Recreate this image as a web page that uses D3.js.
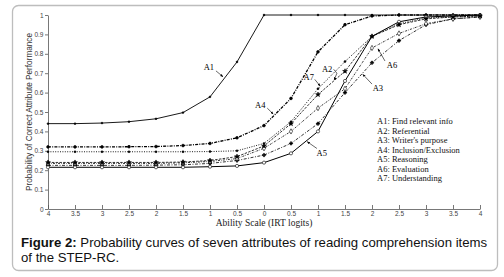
<!DOCTYPE html>
<html>
<head>
<meta charset="utf-8">
<script src="https://cdn.jsdelivr.net/npm/d3@7"></script>
<style>
  body { margin: 0; background: #fff; }
  svg { display: block; }
</style>
</head>
<body>
<div id="chart"></div>
<script>
// ability points (IRT logits)
const ability = [-4, -3.5, -3, -2.5, -2, -1.5, -1, -0.5, 0, 0.5, 1, 1.5, 2, 2.5, 3, 3.5, 4];
// x tick labels as printed (minus signs lost in the original)
const xTickLabels = ["4", "3.5", "3", "2.5", "2", "1.5", "1", "0.5", "0", "0.5", "1", "1.5", "2", "2.5", "3", "3.5", "4"];
const yTicks = [0, 0.1, 0.2, 0.3, 0.4, 0.5, 0.6, 0.7, 0.8, 0.9, 1];

// probability curves for each attribute
const a1 = [0.44, 0.44, 0.443, 0.45, 0.465, 0.497, 0.578, 0.758, 1, 1, 1, 1, 1, 1, 1, 1, 1];
const a2 = [0.295, 0.295, 0.295, 0.295, 0.295, 0.295, 0.296, 0.3, 0.338, 0.45, 0.62, 0.76, 0.89, 0.955, 0.985, 0.99, 0.995];
const a3 = [0.225, 0.225, 0.225, 0.225, 0.226, 0.228, 0.235, 0.25, 0.278, 0.338, 0.44, 0.6, 0.754, 0.868, 0.95, 0.98, 0.99];
const a4 = [0.32, 0.32, 0.32, 0.321, 0.322, 0.327, 0.338, 0.367, 0.43, 0.57, 0.81, 0.95, 0.995, 1, 1, 1, 1];
const a5 = [0.215, 0.215, 0.215, 0.215, 0.215, 0.215, 0.218, 0.222, 0.239, 0.287, 0.4, 0.66, 0.89, 0.965, 0.99, 0.995, 1];
const a6 = [0.235, 0.235, 0.235, 0.235, 0.235, 0.238, 0.245, 0.26, 0.313, 0.4, 0.52, 0.62, 0.83, 0.905, 0.955, 0.98, 0.99];
const a7 = [0.24, 0.24, 0.24, 0.24, 0.24, 0.242, 0.25, 0.27, 0.325, 0.44, 0.59, 0.71, 0.89, 0.95, 0.98, 0.99, 0.995];

const legendLabels = ["A1: Find relevant info", "A2: Referential", "A3: Writer's purpose",
  "A4: Inclusion/Exclusion", "A5: Reasoning", "A6: Evaluation", "A7: Understanding"];

const series = [
  { name: "A1", values: a1, dash: null, width: 0.9, symbol: d3.symbolCircle, size: 2.5, fill: "#000" },
  { name: "A2", values: a2, dash: "1,1.4", width: 0.9, symbol: d3.symbolCircle, size: 3, fill: "#000" },
  { name: "A3", values: a3, dash: "3,1.5,1,1.5", width: 0.8, symbol: d3.symbolCross, size: 6, fill: "#000" },
  { name: "A4", values: a4, dash: "3,1.2,1,1.2", width: 1.3, symbol: d3.symbolCircle, size: 6, fill: "#000" },
  { name: "A5", values: a5, dash: null, width: 1, symbol: d3.symbolCircle, size: 8, fill: "#fff" },
  { name: "A6", values: a6, dash: "2,1.2,0.6,1.2", width: 0.8, symbol: d3.symbolDiamond, size: 8, fill: "#fff" },
  { name: "A7", values: a7, dash: "2.5,1.3", width: 0.8, symbol: d3.symbolStar, size: 7, fill: "#000" }
];

// annotation labels: text pos and arrow path, in data units
const notes = [
  { t: "A1", at: [-1.02, 0.717], path: [[-0.89, 0.712], [-0.76, 0.682]] },
  { t: "A4", at: [-0.07, 0.52], path: [[0.06, 0.52], [0.17, 0.49]] },
  { t: "A7", at: [0.83, 0.665], path: [[0.94, 0.668], [1.04, 0.634]] },
  { t: "A2", at: [1.17, 0.706], path: [[1.29, 0.72], [1.35, 0.7], [1.3, 0.665]] },
  { t: "A6", at: [2.37, 0.727], path: [[2.24, 0.763], [2.11, 0.826]] },
  { t: "A3", at: [2.11, 0.608], path: [[2.0, 0.644], [1.83, 0.694]] },
  { t: "A5", at: [1.07, 0.273], path: [[0.98, 0.312], [0.8, 0.347]] }
];

const width = 504, height = 277;
const svg = d3.select("#chart").append("svg")
  .attr("width", width)
  .attr("height", height);

// frame
svg.append("rect")
  .attr("x", 12.5).attr("y", 5.5)
  .attr("width", 485).attr("height", 265)
  .attr("rx", 6)
  .attr("fill", "#fff")
  .attr("stroke", "#bdbdbd")
  .attr("stroke-width", 1.3);

const x = d3.scaleLinear().domain([-4, 4]).range([48, 480]);
const y = d3.scaleLinear().domain([0, 1]).range([209, 15]);

// arrow head
svg.append("defs").append("marker")
  .attr("id", "arr")
  .attr("viewBox", "0 0 10 10")
  .attr("refX", 9).attr("refY", 5)
  .attr("markerWidth", 5).attr("markerHeight", 5)
  .attr("orient", "auto")
  .append("path")
  .attr("d", "M0,1L10,5L0,9z")
  .attr("fill", "#000");

// axes
const yAxis = svg.append("g")
  .attr("transform", "translate(48,0)")
  .call(d3.axisLeft(y).tickValues(yTicks).tickSize(3).tickSizeOuter(0).tickPadding(1.5)
    .tickFormat(d => d3.format("~g")(d)));

const xAxis = svg.append("g")
  .attr("transform", "translate(0,209)")
  .call(d3.axisBottom(x).tickValues(ability).tickSizeInner(-4).tickSizeOuter(0).tickPadding(2)
    .tickFormat((d, i) => xTickLabels[i]));

[yAxis, xAxis].forEach(g => {
  g.select(".domain").attr("stroke", "#555").attr("stroke-width", 0.8);
  g.selectAll(".tick line").attr("stroke", "#555").attr("stroke-width", 0.8);
  g.selectAll(".tick text")
    .attr("font-family", "Liberation Sans, Arial, sans-serif")
    .attr("font-size", "6.5px")
    .attr("fill", "#444");
});

// axis titles
svg.append("text")
  .attr("transform", "translate(32,112) rotate(-90)")
  .attr("text-anchor", "middle")
  .attr("font-family", "Liberation Sans, Arial, sans-serif")
  .attr("font-size", "8.2px")
  .attr("fill", "#333")
  .text("Probability of Correct Attribute Performance");

svg.append("text")
  .attr("x", 264).attr("y", 226)
  .attr("text-anchor", "middle")
  .attr("font-family", "Liberation Serif, Times New Roman, serif")
  .attr("font-size", "9.5px")
  .attr("fill", "#222")
  .text("Ability Scale (IRT logits)");

// curves
const line = d3.line()
  .x((d, i) => x(ability[i]))
  .y(d => y(d));

const curves = svg.append("g");
series.forEach(s => {
  curves.append("path")
    .datum(s.values)
    .attr("d", line)
    .attr("fill", "none")
    .attr("stroke", "#000")
    .attr("stroke-width", s.width)
    .attr("stroke-dasharray", s.dash);

  curves.selectAll(".pt-" + s.name)
    .data(s.values)
    .enter()
    .append("path")
    .attr("class", "pt-" + s.name)
    .attr("transform", (d, i) => `translate(${x(ability[i])},${y(d)})`)
    .attr("d", d3.symbol().type(s.symbol).size(s.size))
    .attr("fill", s.fill)
    .attr("stroke", "#000")
    .attr("stroke-width", 0.6);
});

// annotations
const ann = svg.append("g");
notes.forEach(n => {
  ann.append("text")
    .attr("x", x(n.at[0])).attr("y", y(n.at[1]))
    .attr("text-anchor", "middle")
    .attr("font-family", "Liberation Serif, Times New Roman, serif")
    .attr("font-size", "8.5px")
    .text(n.t);
  ann.append("path")
    .attr("d", d3.line()(n.path.map(p => [x(p[0]), y(p[1])])))
    .attr("fill", "none")
    .attr("stroke", "#000")
    .attr("stroke-width", 0.6)
    .attr("marker-end", "url(#arr)");
});

// legend
svg.append("g").selectAll("text")
  .data(legendLabels)
  .enter()
  .append("text")
  .attr("x", 377)
  .attr("y", (d, i) => 124 + i * 9.5)
  .attr("font-family", "Liberation Serif, Times New Roman, serif")
  .attr("font-size", "8.5px")
  .attr("fill", "#111")
  .text(d => d);

// caption
const cap = svg.append("text")
  .attr("font-family", "Liberation Sans, Arial, sans-serif")
  .attr("font-size", "13.2px")
  .attr("fill", "#111");
const l1 = cap.append("tspan").attr("x", 21).attr("y", 247);
l1.append("tspan").attr("font-weight", "bold").text("Figure 2:");
l1.append("tspan").text(" Probability curves of seven attributes of reading comprehension items");
cap.append("tspan").attr("x", 21).attr("y", 262).text("of the STEP-RC.");
</script>
</body>
</html>
